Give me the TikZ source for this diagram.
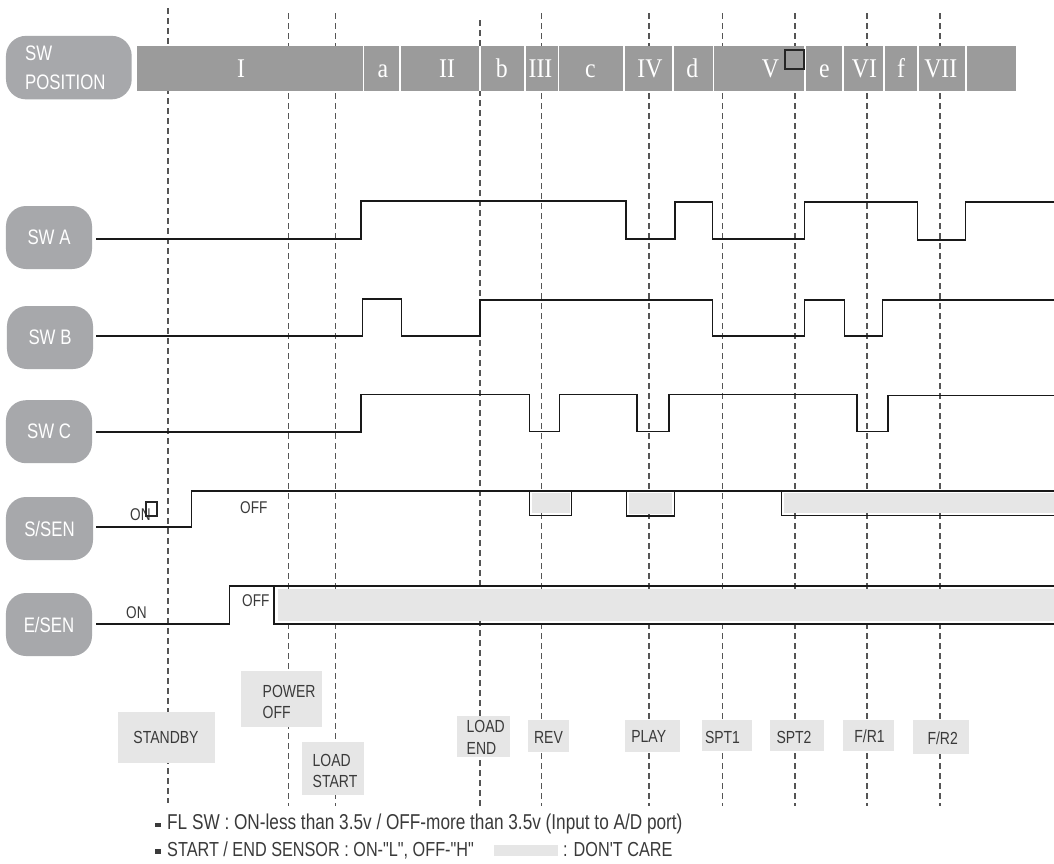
\documentclass[tikz,border=0pt]{standalone}
\usepackage{fontspec}
\setmainfont{Liberation Serif}
\newfontfamily\condsans[FakeStretch=0.8]{Liberation Sans}
\newfontfamily\romserif[FakeStretch=0.88]{Liberation Serif}
\newcommand\myLab{\condsans\fontsize{21bp}{25bp}\selectfont}
\newcommand\myEv{\condsans\fontsize{17.5bp}{20bp}\selectfont}
\newcommand\mySig{\condsans\fontsize{17bp}{19bp}\selectfont}
\newcommand\myFoot{\condsans\fontsize{21.5bp}{24bp}\selectfont}
\newcommand\myFootB{\condsans\fontsize{20.3bp}{24bp}\selectfont}
\newcommand\myRom{\romserif\fontsize{27bp}{30bp}\selectfont}
\definecolor{labgray}{HTML}{A7A8AB}
\definecolor{bargray}{HTML}{9B9B9B}
\definecolor{evgray}{HTML}{E6E6E6}
\definecolor{txtgray}{HTML}{3A3A3A}
\definecolor{dashgray}{HTML}{555555}
\tikzset{
  dline/.style={draw=dashgray, line width=1.1bp, dash pattern=on 6bp off 4bp},
  wave/.style={draw=black!90, line width=1.3bp},
  sepline/.style={draw=white, line width=1.6bp},
  labbox/.style={fill=labgray, rounded corners=20bp, inner sep=0pt},
  labtxt/.style={text=white, inner sep=0pt, font=\myLab},
  romtxt/.style={text=white, inner sep=0pt, anchor=base, font=\myRom},
  evbox/.style={fill=evgray, draw=none},
  evtxt/.style={text=txtgray, inner sep=0pt, font=\myEv},
  sigtxt/.style={text=txtgray, inner sep=0pt, anchor=base west, font=\mySig},
  foottxt/.style={text=txtgray, inner sep=0pt, anchor=base west, font=\myFoot},
  foottxtb/.style={text=txtgray, inner sep=0pt, anchor=base west, font=\myFootB},
  dcfill/.style={fill=evgray, draw=none}
}
\begin{document}
\begin{tikzpicture}[x=1bp,y=-1bp]
\useasboundingbox (0,0) rectangle (1054,864);
\fill[white] (0,0) rectangle (1054,864);

% dashed event lines
\draw[dline] (168,8) -- (168,803);
\foreach \xx in {288.5,335.5,541.5,649,722.5,795,867,940}
  \draw[dline] (\xx,13) -- (\xx,806);
\draw[dline] (480,20) -- (480,806);

% position bar
\fill[bargray] (137,45.7) rectangle (1015.5,90.7);
\foreach \xx in {363.4,400,480,524.7,558.5,624,673,713.5,805,843,884,918,966}
  \draw[sepline] (\xx,45.7) -- (\xx,90.7);
\draw[line width=2bp, draw=black!85] (785,49.5) rectangle (803.5,69);

\node[romtxt] (p1) at (241,77) {I};
\node[romtxt] (pa) at (383,77) {a};
\node[romtxt] (p2) at (447,77) {II};
\node[romtxt] (pb) at (501.7,77) {b};
\node[romtxt] (p3) at (540.5,77) {III};
\node[romtxt] (pc) at (590.5,77) {c};
\node[romtxt] (p4) at (650,77) {IV};
\node[romtxt] (pd) at (692.3,77) {d};
\node[romtxt] (p5) at (770.5,77) {V};
\node[romtxt] (pe) at (824.5,77) {e};
\node[romtxt] (p6) at (864.5,77) {VI};
\node[romtxt] (pf) at (901,77) {f};
\node[romtxt] (p7) at (940.8,77) {VII};

% left labels
\node[labbox, minimum width=125.7bp, minimum height=63.5bp] (swpos) at (68.85,67.6) {};
\node[labtxt, anchor=base west] (swpos1) at (25,60) {SW};
\node[labtxt, anchor=base west] (swpos2) at (25,89) {POSITION};
\node[labbox, minimum width=86bp, minimum height=63bp] (swa) at (49,237.5) {};
\node[labtxt] (swat) at (swa.center) {SW A};
\node[labbox, minimum width=86bp, minimum height=63bp] (swb) at (50,337.5) {};
\node[labtxt] (swbt) at (swb.center) {SW B};
\node[labbox, minimum width=86bp, minimum height=63bp] (swc) at (49,431.7) {};
\node[labtxt] (swct) at (swc.center) {SW C};
\node[labbox, minimum width=87bp, minimum height=63bp] (ssen) at (49.5,528.5) {};
\node[labtxt] (ssent) at (ssen.center) {S/SEN};
\node[labbox, minimum width=86bp, minimum height=63bp] (esen) at (49,624.5) {};
\node[labtxt] (esent) at (esen.center) {E/SEN};

% don't care fills
\fill[evgray] (532,493) rectangle (569.5,513.3);
\fill[evgray] (628.7,493) rectangle (672.4,513.8);
\fill[evgray] (783.8,493) rectangle (1054,513.3);
\fill[evgray] (278,589) rectangle (1054,621);

% waveforms
\draw[wave] (96,239) -- (361,239) -- (361,201) -- (626,201) -- (626,239) -- (675,239) -- (675,202) -- (712.4,202) -- (712.4,239) -- (804.7,239) -- (804.7,202) -- (917.5,202) -- (917.5,240) -- (965.5,240) -- (965.5,202) -- (1054,202);
\draw[wave] (96,336) -- (362.4,336) -- (362.4,299) -- (401.3,299) -- (401.3,336) -- (480,336) -- (480,300) -- (712.4,300) -- (712.4,336) -- (804.7,336) -- (804.7,300) -- (844.6,300) -- (844.6,336) -- (882.4,336) -- (882.4,300) -- (1054,300);
\draw[wave] (96,432) -- (361,432) -- (361,394.5) -- (529.5,394.5) -- (529.5,431.5) -- (559.5,431.5) -- (559.5,394.5) -- (637,394.5) -- (637,431.5) -- (669,431.5) -- (669,394.5) -- (857,394.5) -- (857,431.5) -- (888,431.5) -- (888,395.5) -- (1054,395.5);
\draw[wave] (96,527) -- (191.7,527) -- (191.7,491) -- (1054,491);
\draw[wave] (529.7,491) -- (529.7,515.5) -- (571.7,515.5) -- (571.7,491);
\draw[wave] (626.5,491) -- (626.5,516) -- (674.6,516) -- (674.6,491);
\draw[wave] (781.6,491) -- (781.6,515.5) -- (1054,515.5);
\draw[wave] (96,624) -- (229.7,624) -- (229.7,586) -- (1054,586);
\draw[wave] (274,586) -- (274,624) -- (1054,624);

% signal texts
\node[sigtxt] (sson) at (130,520) {ON};
\draw[line width=1.4bp, draw=black!85] (146,502) rectangle (157,516);
\node[sigtxt] (ssoff) at (240,513.3) {OFF};
\node[sigtxt] (eson) at (126,618.3) {ON};
\node[sigtxt] (esoff) at (242,606.7) {OFF};

% event labels
\fill[evgray] (118,712) rectangle (215,763);
\node[evtxt, anchor=base] (stb) at (166,743) {STANDBY};
\fill[evgray] (241,671) rectangle (322,727);
\node[evtxt, anchor=base west] (pw1) at (262.5,697.5) {POWER};
\node[evtxt, anchor=base west] (pw2) at (262.5,718) {OFF};
\fill[evgray] (302,742) rectangle (364,795);
\node[evtxt, anchor=base west] (ls1) at (312.5,766) {LOAD};
\node[evtxt, anchor=base west] (ls2) at (312.5,787.5) {START};
\fill[evgray] (457,716) rectangle (510,757);
\node[evtxt, anchor=base west] (le1) at (466.5,732.5) {LOAD};
\node[evtxt, anchor=base west] (le2) at (466.5,754) {END};
\fill[evgray] (528,720) rectangle (569,752);
\node[evtxt, anchor=base] (rev) at (548.5,743) {REV};
\fill[evgray] (625,720) rectangle (680,752);
\node[evtxt, anchor=base] (play) at (648.7,742) {PLAY};
\fill[evgray] (702,720) rectangle (752,751);
\node[evtxt, anchor=base] (spt1) at (722.5,743.5) {SPT1};
\fill[evgray] (770,720) rectangle (824,751);
\node[evtxt, anchor=base] (spt2) at (794,743.5) {SPT2};
\fill[evgray] (843,720) rectangle (894,751);
\node[evtxt, anchor=base] (fr1) at (869.5,742) {F/R1};
\fill[evgray] (913,720) rectangle (969,754);
\node[evtxt, anchor=base] (fr2) at (942.7,744) {F/R2};

% footnotes
\fill[txtgray] (155,822.7) rectangle (160.7,826.7);
\node[foottxt] (fn1) at (167,829) {FL SW : ON-less than 3.5v / OFF-more than 3.5v (Input to A/D port)};
\fill[txtgray] (155,849.3) rectangle (160.7,854);
\node[foottxtb] (fn2) at (167,856) {START / END SENSOR : ON-"L", OFF-"H"};
\fill[evgray] (494,845) rectangle (558,856);
\node[foottxtb] (fn3) at (563,856) {: DON'T CARE};
\end{tikzpicture}
\end{document}
